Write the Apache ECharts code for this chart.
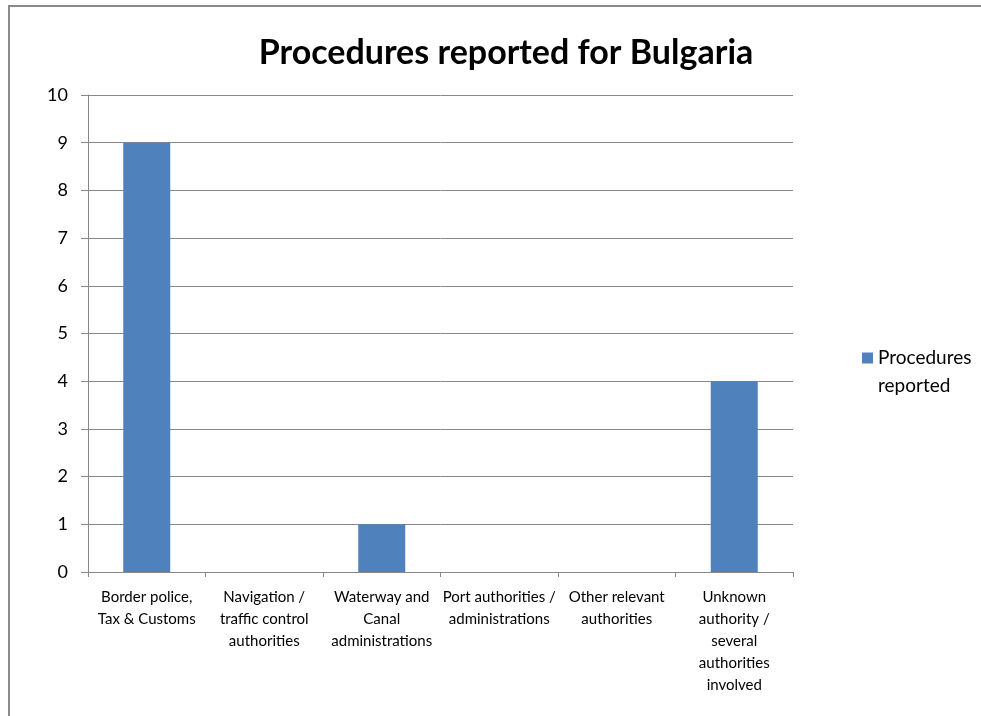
<!DOCTYPE html>
<html>
<head>
<meta charset="utf-8">
<script src="https://cdn.jsdelivr.net/npm/echarts@6/dist/echarts.min.js"></script>
<style>
html,body{margin:0;padding:0;background:#fff;}
#frame{position:absolute;left:8px;top:5px;width:990px;height:730px;border-left:2px solid #8a8a8a;border-top:2px solid #8a8a8a;box-sizing:border-box;}
#chart{position:absolute;left:0;top:0;width:981px;height:716px;}
</style>
</head>
<body>
<div id="frame"></div>
<div id="chart"></div>
<script>
const titleText = 'Procedures reported for Bulgaria';
const seriesName = 'Procedures reported';
const categories = [
  'Border police,\nTax & Customs',
  'Navigation /\ntraffic control\nauthorities',
  'Waterway and\nCanal\nadministrations',
  'Port authorities /\nadministrations',
  'Other relevant\nauthorities',
  'Unknown\nauthority /\nseveral\nauthorities\ninvolved'
];
const values = [9, 0, 1, 0, 0, 4];
const yTicks = [0, 1, 2, 3, 4, 5, 6, 7, 8, 9, 10];

const FONT = 'Lato';
const chart = echarts.init(document.getElementById('chart'), null, {renderer: 'canvas'});
chart.setOption({
  backgroundColor: 'transparent',
  animation: false,
  title: {
    text: titleText,
    left: 501, top: 31, textAlign: 'center',
    textStyle: {fontFamily: FONT, fontWeight: 'bold', fontSize: 34, color: '#000'}
  },
  legend: {
    left: 862, top: 316, padding: 0,
    icon: 'rect', itemWidth: 11, itemHeight: 11, itemGap: 4,
    formatter: () => '\u00a0\nProcedures\nreported',
    textStyle: {fontFamily: FONT, fontSize: 19, color: '#000', lineHeight: 28},
    data: [seriesName]
  },
  grid: {left: 88, right: 188, top: 95, bottom: 144, containLabel: false},
  xAxis: {
    type: 'category',
    data: categories,
    boundaryGap: true,
    axisLine: {lineStyle: {color: '#888', width: 1}},
    axisTick: {show: true, length: 5, alignWithLabel: false, lineStyle: {color: '#888'}},
    axisLabel: {interval: 0, margin: 14, fontFamily: FONT, fontSize: 15, color: '#000', lineHeight: 22, align: 'center'}
  },
  yAxis: {
    type: 'value', min: 0, max: 10, interval: 1,
    axisLine: {show: true, lineStyle: {color: '#888', width: 1}},
    axisTick: {show: true, length: 7, lineStyle: {color: '#888'}},
    splitLine: {show: true, lineStyle: {color: '#888', width: 1}},
    axisLabel: {margin: 20, fontFamily: FONT, fontSize: 18, color: '#000',
      formatter: v => yTicks.includes(v) ? String(v) : ''}
  },
  series: [{
    name: seriesName,
    type: 'bar',
    data: values,
    barWidth: '40%',
    itemStyle: {color: '#4F81BD'}
  }]
});
</script>
</body>
</html>
